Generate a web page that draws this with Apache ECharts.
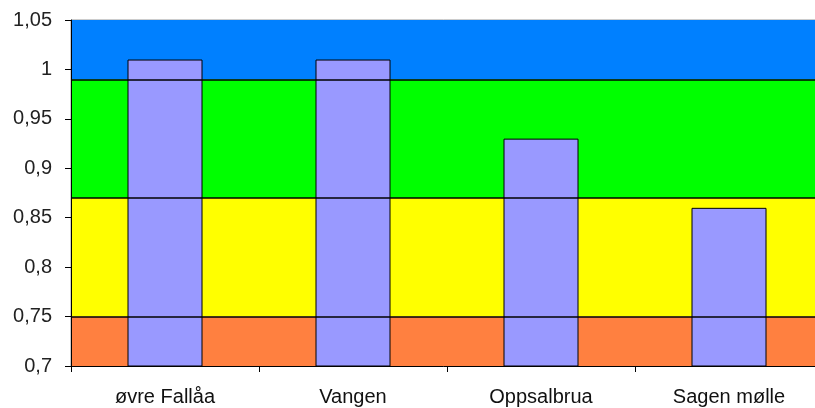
<!DOCTYPE html>
<html><head><meta charset="utf-8">
<script src="https://cdn.jsdelivr.net/npm/echarts@6/dist/echarts.min.js"></script>
<style>html,body{margin:0;padding:0;background:#fff}#c{width:815px;height:408px}</style>
</head><body><div id="c"></div>
<script>
const categories = ['øvre Fallåa', 'Vangen', 'Oppsalbrua', 'Sagen mølle'];
const values = [1.01, 1.01, 0.93, 0.86];
const bandLimits = [0.7, 0.75, 0.87, 0.99, 1.05];
const bandColors = ['#FF8040', '#FFFF00', '#00FF00', '#0080FF'];
const lineLevels = [0.75, 0.87, 0.99];

const chart = echarts.init(document.getElementById('c'));
const areas = [];
for (let i = 0; i < bandColors.length; i++) {
  areas.push([{yAxis: bandLimits[i], itemStyle: {color: bandColors[i], opacity: 1}}, {yAxis: bandLimits[i + 1]}]);
}
chart.setOption({
  animation: false,
  grid: {left: 71, width: 752, top: 20, height: 346, outerBoundsMode: 'none', containLabel: false,
    show: true, borderColor: '#999', borderWidth: 1, backgroundColor: 'transparent'},
  xAxis: {
    type: 'category', data: categories,
    axisLine: {lineStyle: {color: '#000', width: 1}},
    axisTick: {show: true, alignWithLabel: false, length: 6, lineStyle: {color: '#000'}},
    axisLabel: {color: '#111', fontFamily: 'Liberation Sans, Arial', fontSize: 20, margin: 21},
    z: 10
  },
  yAxis: {
    type: 'value', min: 0.7, max: 1.05, interval: 0.05,
    axisLine: {show: true, lineStyle: {color: '#000', width: 1}},
    axisTick: {show: true, length: 6, lineStyle: {color: '#000'}},
    splitLine: {show: false},
    axisLabel: {color: '#222', fontFamily: 'Liberation Sans, Arial', fontSize: 20, margin: 19,
      formatter: v => String(Math.round(v * 100) / 100).replace('.', ',')},
    z: 10
  },
  series: [
    {type: 'line', data: [], z: 1, silent: true,
     markArea: {silent: true, data: areas}},
    {type: 'bar', data: values, barWidth: 75, z: 2,
     itemStyle: {color: '#9999FF', borderColor: '#000', borderWidth: 1}},
    {type: 'line', data: [], z: 3, silent: true,
     markLine: {silent: true, symbol: 'none', label: {show: false},
       lineStyle: {color: '#000', width: 1.5, type: 'solid'},
       data: lineLevels.map(v => ({yAxis: v}))}}
  ]
});
</script></body></html>
